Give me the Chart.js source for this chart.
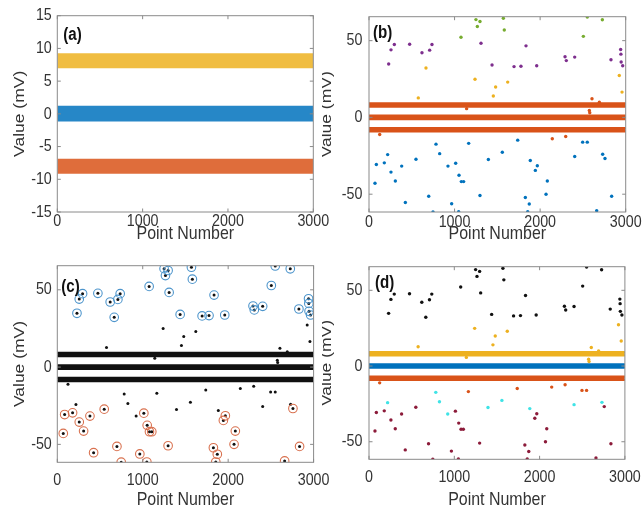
<!DOCTYPE html>
<html>
<head>
<meta charset="utf-8">
<script src="https://cdn.jsdelivr.net/npm/chart.js@4.4.1/dist/chart.umd.min.js"></script>
<style>
html,body{margin:0;padding:0;background:#fff;}
#wrap{position:relative;width:643px;height:509px;overflow:hidden;background:#fff;}
canvas{position:absolute;}
</style>
</head>
<body>
<div id="wrap">
  <canvas id="ca" width="340" height="250" style="left:0px;top:0px"></canvas>
  <canvas id="cb" width="330" height="250" style="left:322px;top:0px"></canvas>
  <canvas id="cc" width="340" height="259" style="left:0px;top:250px"></canvas>
  <canvas id="cd" width="330" height="259" style="left:322px;top:250px"></canvas>
</div>
<script>
// ---------------- data ----------------
const X_TICKS = [0, 1000, 2000, 3000];
const Y_TICKS_A = [-15, -10, -5, 0, 5, 10, 15];
const Y_TICKS_BCD = [-50, 0, 50];
const X_RANGE = [0, 3000];
const Y_RANGE_A = [-15, 15];
const Y_RANGE_BCD = [-61.6, 65.6];

// three dense bands of points (upper / middle / lower level), limits in mV
const bandLow  = [6.98, -1.17, -9.17];
const bandHigh = [9.27,  1.22, -6.88];

// high outliers (cluster circled blue in (c))
const hiPurpleX = [230, 257, 296, 475, 619, 709, 736, 1309, 1438, 1695, 1776, 1835, 1960, 2291, 2306, 2404, 2828, 2941, 2944, 2947, 2965];
const hiPurpleY = [34.8, 44.0, 47.5, 47.7, 42.1, 43.8, 47.5, 48.3, 34.1, 33.1, 33.3, 46.6, 33.7, 39.5, 37.0, 39.3, 37.6, 44.2, 41.2, 36.1, 33.7];
const hiGreenX = [1075, 1250, 1266, 1297, 1570, 1581, 2505, 2551, 2727];
const hiGreenY = [52.2, 63.7, 59.2, 62.5, 64.6, 56.9, 52.8, 65.4, 63.6];
const hiYellowX = [666];
const hiYellowY = [32.2];

// mid outliers above the bands
const midUpYellowX = [576, 1239, 1453, 1480, 1621, 2925, 2957];
const midUpYellowY = [12.7, 24.9, 14.0, 19.8, 23.0, 27.3, 16.5];
const midUpOrangeX = [1141, 2575, 2580, 2606, 2692];
const midUpOrangeY = [5.7, 4.5, 3.0, 12.2, 9.9];

// mid outliers below the bands
const midLowOrangeX = [125, 2142, 2299];
const midLowOrangeY = [-11.1, -13.9, -12.4];
const midLowBlueX = [1165, 1738, 2497, 2551];
const midLowBlueY = [-16.9, -14.8, -16.1, -16.1];

// low outliers (uncircled in (c), cyan in (d))
const lowCyanX = [218, 783, 826, 923, 1395, 1558, 1885, 2404, 2731];
const lowCyanY = [-24.2, -17.4, -23.6, -31.7, -27.4, -22.7, -28.1, -25.5, -24.0];

// low outliers (cluster circled red in (c))
const lowRedX = [70, 86, 179, 257, 308, 382, 425, 549, 698, 748, 966, 1013, 1048, 1052, 1079, 1106, 1297, 1827, 1855, 1873, 1944, 1967, 2069, 2084, 2661, 2758, 2836];
const lowRedY = [-42.9, -30.7, -29.6, -35.6, -41.4, -31.7, -55.4, -27.2, -51.3, -61.5, -56.2, -29.8, -61.4, -37.7, -41.8, -41.8, -50.9, -52.2, -61.4, -56.4, -34.5, -31.5, -50.0, -41.4, -60.7, -26.8, -51.3];

// ---------------- helpers ----------------
const C = {
  blue: '#0072BD', orange: '#D95319', yellow: '#EDB120', purple: '#7E2F8E',
  green: '#77AC30', cyan: '#3FE3E6', dred: '#8C1B3A', black: '#111111'
};
const FONT = "'Liberation Sans', Arial, sans-serif";
const TXT = '#333333';
const SX = 0.84; // the reference figure is slightly squeezed horizontally

// squeeze text horizontally in screen space around its anchor
function squeezeText(canvas) {
  const ctx = canvas.getContext('2d');
  const orig = ctx.fillText.bind(ctx);
  ctx.fillText = function (t, x, y, mw) {
    const m = this.getTransform();
    const ax = m.a * x + m.c * y + m.e, ay = m.b * x + m.d * y + m.f;
    this.save();
    this.setTransform(new DOMMatrix().translate(ax, ay).scale(SX, 1).translate(-ax, -ay).multiply(m));
    if (mw === undefined) orig(t, x, y); else orig(t, x, y, mw);
    this.restore();
  };
}

function pts(xs, ys) { return xs.map((x, i) => ({x: x, y: ys[i]})); }
function cat(...arrs) { return [].concat(...arrs); }
function hexA(hex, a) {
  const n = parseInt(hex.slice(1), 16);
  return 'rgba(' + (n >> 16 & 255) + ',' + (n >> 8 & 255) + ',' + (n & 255) + ',' + a + ')';
}

function bandSets(colors, bw, alpha) {
  const sets = [];
  bandLow.forEach((lo, i) => {
    const c = colors[i];
    const fillC = alpha < 1 ? hexA(c, alpha) : c;
    const lineC = bw > 0 ? c : 'rgba(0,0,0,0)';
    sets.push({data: pts(X_RANGE, [bandHigh[i], bandHigh[i]]), showLine: true, fill: '+1',
      backgroundColor: fillC, borderColor: lineC, borderWidth: bw || 1, pointRadius: 0, order: 10});
    sets.push({data: pts(X_RANGE, [lo, lo]), showLine: true, fill: false,
      backgroundColor: fillC, borderColor: lineC, borderWidth: bw || 1, pointRadius: 0, order: 10});
  });
  return sets;
}
function dots(data, color, r) {
  return {data: data, pointRadius: r || 1.7, pointBackgroundColor: color, pointBorderWidth: 0,
    borderColor: color, backgroundColor: color, showLine: false, order: 2};
}
function rings(data, color) {
  return {data: data, pointRadius: 4.3, pointBackgroundColor: 'rgba(0,0,0,0)', pointBorderWidth: 1.1,
    pointBorderColor: color, borderColor: color, showLine: false, order: 1};
}

const boxPlugin = {
  id: 'boxTicks',
  afterDatasetsDraw(chart) {
    const {ctx, chartArea: a, scales} = chart;
    const x = scales.x, y = scales.y, L = 3.5;
    ctx.save();
    ctx.strokeStyle = '#8a8a8a';
    ctx.lineWidth = 1;
    ctx.beginPath();
    x.ticks.forEach(t => {
      const p = x.getPixelForValue(t.value);
      ctx.moveTo(p, a.bottom); ctx.lineTo(p, a.bottom - L);
      ctx.moveTo(p, a.top); ctx.lineTo(p, a.top + L);
    });
    y.ticks.forEach(t => {
      const p = y.getPixelForValue(t.value);
      ctx.moveTo(a.left, p); ctx.lineTo(a.left + L, p);
      ctx.moveTo(a.right, p); ctx.lineTo(a.right - L, p);
    });
    ctx.stroke();
    ctx.strokeRect(a.left, a.top, a.right - a.left, a.bottom - a.top);
    const pl = chart.options.plugins.panelLabel;
    if (pl) {
      ctx.fillStyle = '#111';
      ctx.font = 'bold 18px ' + FONT;
      ctx.textAlign = 'left';
      ctx.textBaseline = 'middle';
      ctx.fillText(pl.text, a.left + pl.dx, a.top + pl.dy);
    }
    ctx.restore();
  }
};

function makeChart(id, datasets, L) {
  const cv = document.getElementById(id);
  squeezeText(cv);
  return new Chart(cv, {
    type: 'scatter',
    data: {datasets: datasets},
    plugins: [boxPlugin],
    options: {
      responsive: false, animation: false, events: [], devicePixelRatio: 1,
      layout: {padding: {left: 0, top: L.padTop, right: L.padRight, bottom: 0}},
      plugins: {legend: {display: false}, tooltip: {enabled: false},
        panelLabel: {text: L.label, dx: L.lx, dy: L.ly}},
      scales: {
        x: {
          type: 'linear', min: X_RANGE[0], max: X_RANGE[1],
          afterBuildTicks: s => { s.ticks = X_TICKS.map(v => ({value: v})); },
          afterFit: s => { s.height = L.xh; },
          grid: {display: false, drawTicks: false}, border: {display: false},
          ticks: {color: TXT, font: {family: FONT, size: 17}, padding: L.xtp, maxRotation: 0,
            autoSkip: false, callback: v => String(v)},
          title: {display: true, text: 'Point Number', color: TXT, font: {family: FONT, size: 19},
            padding: {top: 0, bottom: L.xttp}}
        },
        y: {
          type: 'linear', min: L.yr[0], max: L.yr[1],
          afterBuildTicks: s => { s.ticks = L.yt.map(v => ({value: v})); },
          afterFit: s => { s.width = L.yw; },
          grid: {display: false, drawTicks: false}, border: {display: false},
          ticks: {color: TXT, font: {family: FONT, size: 17}, padding: L.ytp, autoSkip: false,
            callback: v => String(v)},
          title: {display: true, text: 'Value (mV)', color: TXT, font: {family: FONT, size: 17.5},
            padding: {top: L.yttp, bottom: 0}}
        }
      }
    }
  });
}

// ---------------- panels ----------------
const allHi = cat(pts(hiPurpleX, hiPurpleY), pts(hiGreenX, hiGreenY), pts(hiYellowX, hiYellowY));
const allOut = cat(allHi, pts(midUpYellowX, midUpYellowY), pts(midUpOrangeX, midUpOrangeY),
  pts(midLowOrangeX, midLowOrangeY), pts(midLowBlueX, midLowBlueY), pts(lowCyanX, lowCyanY), pts(lowRedX, lowRedY));

// (a)
makeChart('ca', bandSets([C.yellow, C.blue, C.orange], 0, 0.85), {
  padTop: 15, padRight: 26.7, xh: 38, yw: 57.3, yr: Y_RANGE_A, yt: Y_TICKS_A,
  xtp: -0.5, xttp: 5, ytp: 5.5, yttp: 9.5, label: '(a)', lx: 6, ly: 19
});

// (b)
makeChart('cb', cat([
  dots(pts(hiPurpleX, hiPurpleY), C.purple),
  dots(pts(hiGreenX, hiGreenY), C.green),
  dots(cat(pts(hiYellowX, hiYellowY), pts(midUpYellowX, midUpYellowY)), C.yellow),
  dots(cat(pts(midUpOrangeX, midUpOrangeY), pts(midLowOrangeX, midLowOrangeY)), C.orange),
  dots(cat(pts(midLowBlueX, midLowBlueY), pts(lowCyanX, lowCyanY), pts(lowRedX, lowRedY)), C.blue)
], bandSets([C.orange, C.orange, C.orange], 2, 1)), {
  padTop: 15, padRight: 26.3, xh: 38, yw: 47, yr: Y_RANGE_BCD, yt: Y_TICKS_BCD,
  xtp: -0.2, xttp: 5, ytp: 6.5, yttp: -5.5, label: '(b)', lx: 4, ly: 16.5
});

// (c)
makeChart('cc', cat([
  rings(allHi, '#4D95CC'),
  rings(pts(lowRedX, lowRedY), '#D9714F'),
  dots(allOut, C.black, 1.5)
], bandSets([C.black, C.black, C.black], 2, 1)), {
  padTop: 14.3, padRight: 25, xh: 46.7, yw: 57.3, yr: Y_RANGE_BCD, yt: Y_TICKS_BCD,
  xtp: 7.5, xttp: -2, ytp: 5.5, yttp: 9.5, label: '(c)', lx: 4, ly: 21
});

// (d)
makeChart('cd', cat([
  dots(allHi, C.black),
  dots(cat(pts(midUpYellowX, midUpYellowY), pts(midUpOrangeX, midUpOrangeY)), C.yellow),
  dots(cat(pts(midLowOrangeX, midLowOrangeY), pts(midLowBlueX, midLowBlueY)), C.orange),
  dots(pts(lowCyanX, lowCyanY), C.cyan),
  dots(pts(lowRedX, lowRedY), C.dred)
], bandSets([C.yellow, C.blue, C.orange], 2, 1)), {
  padTop: 11.7, padRight: 26.3, xh: 49.7, yw: 47, yr: Y_RANGE_BCD, yt: Y_TICKS_BCD,
  xtp: 8.2, xttp: -2, ytp: 6.5, yttp: -5.5, label: '(d)', lx: 6, ly: 16
});
</script>
</body>
</html>
